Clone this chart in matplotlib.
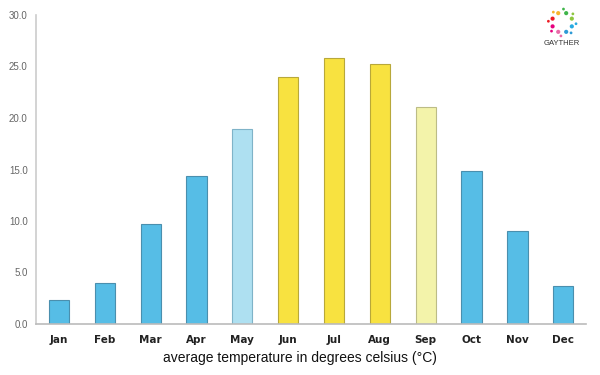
import matplotlib
matplotlib.use("Agg")
import matplotlib.pyplot as plt
import numpy as np

months = ["Jan", "Feb", "Mar", "Apr", "May", "Jun", "Jul", "Aug", "Sep", "Oct", "Nov", "Dec"]
temps = [2.3, 4.0, 9.7, 14.4, 18.9, 24.0, 25.8, 25.2, 21.1, 14.9, 9.0, 3.7]
colors = ["#56bde6", "#56bde6", "#56bde6", "#56bde6", "#aee0f1", "#f8e240",
          "#f8e240", "#f8e240", "#f3f3aa", "#56bde6", "#56bde6", "#56bde6"]
edges = ["#4a8fae", "#4a8fae", "#4a8fae", "#4a8fae", "#7fb3c8", "#b8a83a",
         "#b8a83a", "#b8a83a", "#bcbc86", "#4a8fae", "#4a8fae", "#4a8fae"]
yticks = [0, 5, 10, 15, 20, 25, 30]

fig = plt.figure(figsize=(6, 3.75), dpi=100)
ax = fig.add_axes([0.06, 0.136, 0.917, 0.824])
x = np.arange(len(months))
ax.bar(x, temps, width=0.44, color=colors, edgecolor=edges, linewidth=0.8, zorder=2)
ax.set_xlim(-0.5, 11.5)
ax.set_ylim(0, 30)
ax.set_yticks(yticks)
ax.set_yticklabels([f"{v:.1f}" for v in yticks], color="#666666", fontsize=7, family="Liberation Sans")
ax.set_xticks(x)
ax.set_xticklabels(months, fontsize=7.5, color="#222222", family="DejaVu Sans", fontweight="semibold")
ax.tick_params(axis="both", length=0)
ax.tick_params(axis="x", pad=8)
ax.tick_params(axis="y", pad=6)
for s in ["top", "right"]:
    ax.spines[s].set_visible(False)
ax.spines["left"].set_color("#cccccc")
ax.spines["bottom"].set_color("#bbbbbb")
ax.spines["left"].set_linewidth(1.2)
ax.spines["bottom"].set_linewidth(1.2)

fig.text(0.5, 0.045, "average temperature in degrees celsius (°C)", ha="center", va="center",
         fontsize=10, family="Liberation Sans", color="#111111")

# logo
lax = fig.add_axes([0.9, 0.895, 0.074, 0.09])
lax.set_xlim(-1.6, 1.6)
lax.set_ylim(-1.25, 1.25)
lax.axis("off")
ang = np.linspace(0, 2 * np.pi, 8, endpoint=False) + np.pi / 8
lcols = ["#8dc63f", "#3fb54a", "#f7b52c", "#ed1c24", "#e6007e", "#e96aa8", "#2e9bd6", "#27aae1"]
lax.scatter(0.75 * np.cos(ang), 0.75 * np.sin(ang), s=9, c=lcols, marker="o", linewidths=0)
lax.scatter(1.0 * np.cos(ang + 0.3), 1.0 * np.sin(ang + 0.3), s=4, c=lcols, marker="o", linewidths=0)
fig.text(0.937, 0.885, "GAYTHER", ha="center", va="center", fontsize=5.5, color="#333333", family="Liberation Sans")

fig.savefig("out.png", dpi=100)
